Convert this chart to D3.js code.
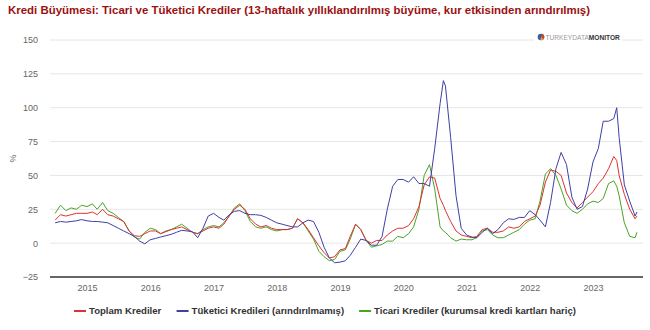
<!DOCTYPE html>
<html>
<head>
<meta charset="utf-8">
<script src="https://cdn.jsdelivr.net/npm/d3@7"></script>
<style>
  html, body { margin: 0; padding: 0; background: #fff; }
  svg { display: block; font-family: "Liberation Sans", Arial, sans-serif; }
</style>
</head>
<body>
<svg id="chart" width="650" height="330"></svg>
<script>
// Monthly observations (plus a few intermediate weeks at sharp turns)
const dates = [
  "2014-07-01","2014-08-01","2014-09-01","2014-10-01","2014-11-01","2014-12-01",
  "2015-01-01","2015-02-01","2015-03-01","2015-04-01","2015-05-01","2015-06-01",
  "2015-07-01","2015-08-01","2015-09-01","2015-10-01","2015-11-01","2015-12-01",
  "2016-01-01","2016-02-01","2016-03-01","2016-04-01","2016-05-01","2016-06-01",
  "2016-07-01","2016-08-01","2016-09-01","2016-10-01","2016-11-01","2016-12-01",
  "2017-01-01","2017-02-01","2017-03-01","2017-04-01","2017-05-01","2017-06-01",
  "2017-07-01","2017-08-01","2017-09-01","2017-10-01","2017-11-01","2017-12-01",
  "2018-01-01","2018-02-01","2018-03-01","2018-04-01","2018-05-01","2018-06-01",
  "2018-07-01","2018-08-01","2018-09-01","2018-10-01","2018-11-01","2018-12-01",
  "2019-01-01","2019-02-01","2019-03-01","2019-04-01","2019-05-01","2019-06-01",
  "2019-07-01","2019-08-01","2019-09-01","2019-10-01","2019-11-01","2019-12-01",
  "2020-01-01","2020-02-01","2020-03-01","2020-04-01","2020-05-01","2020-06-01",
  "2020-07-01","2020-08-01","2020-08-20","2020-09-01","2020-10-01","2020-11-01","2020-12-01",
  "2021-01-01","2021-02-01","2021-03-01","2021-04-01","2021-05-01","2021-06-01",
  "2021-07-01","2021-08-01","2021-09-01","2021-10-01","2021-11-01","2021-12-01",
  "2022-01-01","2022-02-01","2022-03-01","2022-04-01","2022-05-01","2022-06-01",
  "2022-07-01","2022-08-01","2022-09-01","2022-10-01","2022-11-01","2022-12-01",
  "2023-01-01","2023-02-01","2023-03-01","2023-04-01","2023-05-01","2023-05-18",
  "2023-06-01","2023-07-01","2023-08-01","2023-09-01","2023-09-12"
];

// Toplam Krediler (%)
const toplam = [
  17,21,20,21,22,22,
  22,23,21,25,21,20,
  18,16,9,5.5,5,7,
  9,9,7,8.5,10,11,
  12,10,8,7,9,11,
  12,11,14,20,25,28,
  25,18,14,12,13,11,
  10,10,10,11,18,15,
  10,4,-2,-7,-11,-10,
  -5,-4,5,14,10,2,
  0,2,2,6,9,11,
  11,13,18,27,43,49,
  48,33,28,24,16,9,6,
  5,4,5,10,11,8,
  8,9,12,11,12,16,
  18,20,28,45,54,53,
  50,37,30,26,30,34,
  38,44,48,55,64,61,
  50,36,25,18,20
];

// Tüketici Kredileri, arındırılmamış (%)
const tuketici = [
  15,16,15.5,16,16.5,17.4,
  16.5,16,16,15.5,15,13,
  11,9,7,5,1.5,-0.5,
  2.5,3.5,4.5,5.5,6.5,8,
  9.5,9,8.5,4,11,20,
  22,19,17,21,23.5,24,
  22,21,21,20.5,19,17,
  15,14,13,12,12,15,
  17,16,8,-3,-11,-14.5,
  -14,-13,-9,-3,3,2,
  -1.5,-1.5,5,25,42,47,
  47,45,49,44,44,42,
  70,103,120,116,78,35,11,
  6,4.5,4,8,11,7,
  10,15,18,17.5,19,19,
  24,21,17,12,30,55,
  67,58,34,25,27,40,
  60,70,90,90,92,100,
  78,43,31,20,23
];

// Ticari Krediler, kurumsal kredi kartları hariç (%)
const ticari = [
  22,28,24,26,25,28,
  27,29,25,30,24,22,
  19,16,9,4.5,3,8,
  11,10,7,9,10,12,
  14,11,8,7,10,12,
  13,12,15,20,26,29,
  24,16,12,11,12,10,
  9,10,10,11,18,15,
  9,3,-6,-10,-13,-12,
  -6,-5,3,14,10,2,
  -3,-2,-1,1.5,1.5,5,
  4,7,12,25,50,58,
  40,12,9,8,4,1.5,3,
  2.5,2.5,4,9,10,6,
  4,4,6,8,10,14,
  17,18,31,51,55,50,
  40,28,24,22,25,29,
  31,30,33,44,46,42,
  35,15,5,4,8
];

const yTicks = [-25, 0, 25, 50, 75, 100, 125, 150];
const xTickYears = [2015, 2016, 2017, 2018, 2019, 2020, 2021, 2022, 2023];

const seriesDefs = [
  { name: "Toplam Krediler", values: toplam, color: "#e03030" },
  { name: "Tüketici Kredileri (arındırılmamış)", values: tuketici, color: "#3f3fa6" },
  { name: "Ticari Krediler (kurumsal kredi kartları hariç)", values: ticari, color: "#4aa424" }
];

const svg = d3.select("#chart");
const parse = d3.utcParse("%Y-%m-%d");
const parsedDates = dates.map(parse);

const plotLeft = 50, plotRight = 643, plotTop = 40, plotBottom = 277;

const x = d3.scaleUtc()
  .domain([new Date(Date.UTC(2015, 0, 1)), new Date(Date.UTC(2023, 0, 1))])
  .range([87, 593]);

const y = d3.scaleLinear()
  .domain([-25, 150])
  .range([plotBottom, plotTop]);

// Title
svg.append("text")
  .attr("x", 8).attr("y", 14)
  .attr("font-size", 11.45).attr("font-weight", "bold")
  .attr("fill", "#9b1010")
  .text("Kredi Büyümesi: Ticari ve Tüketici Krediler (13-haftalık yıllıklandırılmış büyüme, kur etkisinden arındırılmış)");

// Horizontal grid
const yAxis = d3.axisLeft(y).tickValues(yTicks).tickSize(0).tickPadding(0);
const gy = svg.append("g").attr("transform", `translate(38,0)`).call(yAxis);
gy.select(".domain").remove();
gy.selectAll("text").attr("font-size", 9).attr("fill", "#666").attr("font-family", "Liberation Sans, Arial, sans-serif");

svg.append("g").selectAll("line")
  .data(yTicks.filter(t => t !== -25))
  .join("line")
  .attr("x1", plotLeft).attr("x2", plotRight)
  .attr("y1", d => y(d)).attr("y2", d => y(d))
  .attr("stroke", "#e6e6e6").attr("stroke-width", 1);

// Axis label
svg.append("text")
  .attr("transform", `translate(16,${(plotTop + plotBottom) / 2}) rotate(-90)`)
  .attr("text-anchor", "middle")
  .attr("font-size", 9).attr("fill", "#666")
  .text("%");

// Logo block over the top gridline
const logo = svg.append("g").attr("transform", "translate(536,37)");
logo.append("rect").attr("x", -2).attr("y", -7).attr("width", 88).attr("height", 12).attr("fill", "#fff");
const globe = logo.append("g").attr("transform", "translate(5,0)");
globe.append("circle").attr("r", 3.3).attr("fill", "#3a5fa8");
globe.append("path").attr("d", d3.arc()({ innerRadius: 0, outerRadius: 3.3, startAngle: 0.3, endAngle: 2.2 })).attr("fill", "#d9412b");
globe.append("path").attr("d", d3.arc()({ innerRadius: 0, outerRadius: 3.3, startAngle: 2.2, endAngle: 3.3 })).attr("fill", "#f0a020");
const logoText = logo.append("text").attr("x", 9.5).attr("y", 2.5).attr("font-size", 6.6);
logoText.append("tspan").attr("fill", "#9a9a9a").attr("font-weight", "normal").text("TURKEYDATA");
logoText.append("tspan").attr("fill", "#333").attr("font-weight", "bold").text("MONITOR");

// Series lines
const line = d3.line()
  .x((d, i) => x(parsedDates[i]))
  .y(d => y(d));

const lineOrder = [seriesDefs[2], seriesDefs[0], seriesDefs[1]];
svg.append("g").selectAll("path")
  .data(lineOrder)
  .join("path")
  .attr("fill", "none")
  .attr("stroke", d => d.color)
  .attr("stroke-width", 1)
  .attr("stroke-linejoin", "round")
  .attr("d", d => line(d.values));

// Bottom axis
const xAxis = d3.axisBottom(x)
  .tickValues(xTickYears.map(yr => new Date(Date.UTC(yr, 0, 1))))
  .tickFormat(d3.utcFormat("%Y"))
  .tickSize(0).tickPadding(8);
const gx = svg.append("g").attr("transform", `translate(0,${plotBottom})`).call(xAxis);
gx.select(".domain").remove();
gx.selectAll("text").attr("font-size", 9).attr("fill", "#666").attr("font-family", "Liberation Sans, Arial, sans-serif");
svg.append("line")
  .attr("x1", plotLeft).attr("x2", plotRight)
  .attr("y1", plotBottom).attr("y2", plotBottom)
  .attr("stroke", "#333").attr("stroke-width", 1.5);

// Legend
const legend = svg.append("g").attr("transform", "translate(0,311)");
const items = legend.selectAll("g").data(seriesDefs).join("g");
items.append("line")
  .attr("x1", 0).attr("x2", 12).attr("y1", 0).attr("y2", 0)
  .attr("stroke", d => d.color).attr("stroke-width", 2);
items.append("text")
  .attr("x", 15).attr("y", 3.4)
  .attr("font-size", 9.6).attr("font-weight", "bold").attr("fill", "#333")
  .text(d => d.name);
const gap = 15;
const widths = [];
items.each(function () { widths.push(this.getBBox().width); });
const total = d3.sum(widths) + gap * (widths.length - 1);
let cursor = 325 - total / 2;
items.attr("transform", (d, i) => {
  const t = `translate(${cursor},0)`;
  cursor += widths[i] + gap;
  return t;
});
</script>
</body>
</html>
